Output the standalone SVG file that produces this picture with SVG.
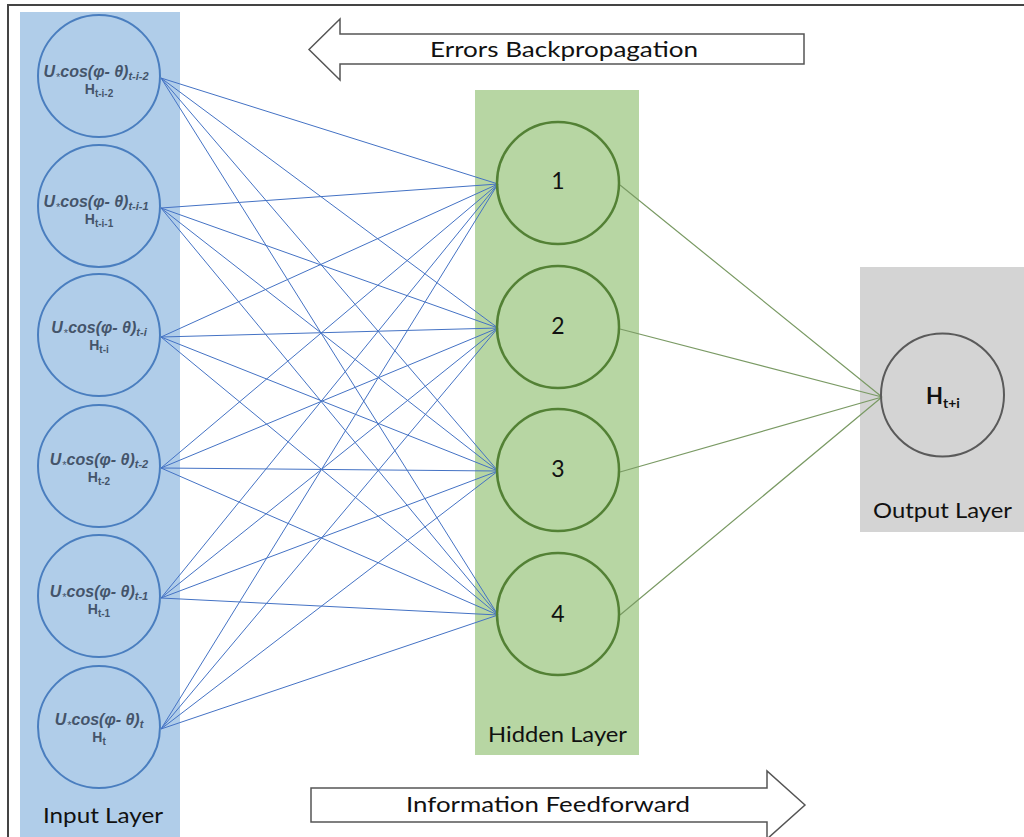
<svg xmlns="http://www.w3.org/2000/svg" width="1024" height="837" viewBox="0 0 1024 837">
<style>
.lbl{font-family:Lato,"Liberation Sans",sans-serif;font-size:21px;fill:#111;text-anchor:middle}
.num{font-family:Lato,"Liberation Sans",sans-serif;font-size:23px;fill:#111;text-anchor:middle}
.m1{font-family:"Liberation Sans",sans-serif;font-size:16px;font-weight:bold;font-style:italic;fill:#44546a;text-anchor:middle}
.m2{font-family:"Liberation Sans",sans-serif;font-size:14px;font-weight:bold;fill:#44546a;text-anchor:middle}
.sb{font-size:11px}
.ast{font-size:11px;font-style:normal;font-weight:normal}
.st{font-size:10px}
.inc{fill:none;stroke:#4a7ebf;stroke-width:2}
.hc{fill:none;stroke:#538135;stroke-width:2.5}
.oc{fill:none;stroke:#5a5a5a;stroke-width:2}
.bl{stroke:#4472c4;stroke-width:1;fill:none}
.gl{stroke:#7a9a64;stroke-width:1.2;fill:none}
.arr{fill:#fff;stroke:#555;stroke-width:1.5}
</style>
<rect x="0" y="0" width="1024" height="837" fill="#fff"/>
<rect x="8" y="5" width="1030" height="850" fill="#fff" stroke="#444" stroke-width="2"/>
<rect x="20" y="12" width="160" height="830" fill="#b0cde9"/>
<rect x="475" y="90" width="164" height="665" fill="#b7d6a3"/>
<rect x="860" y="267" width="170" height="265" fill="#d4d4d4"/>

<g id="arrow-back">
<polygon class="arr" points="309,49.5 340,19 340,34 804,34 804,64 340,64 340,80"/>
<text class="lbl" x="564" y="57" textLength="268" lengthAdjust="spacingAndGlyphs">Errors Backpropagation</text>
</g>
<g id="arrow-forward">
<polygon class="arr" points="805,805 767,771 767,788 311,788 311,822 767,822 767,839"/>
<text class="lbl" x="548" y="812" textLength="284" lengthAdjust="spacingAndGlyphs">Information Feedforward</text>
</g>

<g id="connectors">
<path class="bl" d="M161,78L498,184M161,78L498,328M161,78L498,471M161,78L498,615
M161,208L498,184M161,208L498,328M161,208L498,471M161,208L498,615
M161,337L498,184M161,337L498,328M161,337L498,471M161,337L498,615
M161,468L498,184M161,468L498,328M161,468L498,471M161,468L498,615
M161,598L498,184M161,598L498,328M161,598L498,471M161,598L498,615
M161,729L498,184M161,729L498,328M161,729L498,471M161,729L498,615"/>
<path class="gl" d="M620,185L882,397M620,329L882,397M620,472L882,397M620,615L882,397"/>
</g>

<g id="input-1">
<circle class="inc" cx="99" cy="76" r="61"/>
<text class="m1" x="96" y="77">U<tspan class="ast" dx="1" dy="4">*</tspan><tspan dy="-4">cos(φ- θ)</tspan><tspan class="sb" dy="3">t-i-2</tspan></text>
<text class="m2" x="99" y="94">H<tspan class="st" dy="3">t-i-2</tspan></text>
</g>
<g id="input-2">
<circle class="inc" cx="99" cy="206" r="61"/>
<text class="m1" x="96" y="207">U<tspan class="ast" dx="1" dy="4">*</tspan><tspan dy="-4">cos(φ- θ)</tspan><tspan class="sb" dy="3">t-i-1</tspan></text>
<text class="m2" x="99" y="224">H<tspan class="st" dy="3">t-i-1</tspan></text>
</g>
<g id="input-3">
<circle class="inc" cx="99" cy="335" r="61"/>
<text class="m1" x="99" y="333">U<tspan class="ast" dx="1" dy="4">*</tspan><tspan dy="-4">cos(φ- θ)</tspan><tspan class="sb" dy="3">t-i</tspan></text>
<text class="m2" x="99" y="350">H<tspan class="st" dy="3">t-i</tspan></text>
</g>
<g id="input-4">
<circle class="inc" cx="99" cy="466" r="61"/>
<text class="m1" x="99" y="465">U<tspan class="ast" dx="1" dy="4">*</tspan><tspan dy="-4">cos(φ- θ)</tspan><tspan class="sb" dy="3">t-2</tspan></text>
<text class="m2" x="99" y="482">H<tspan class="st" dy="3">t-2</tspan></text>
</g>
<g id="input-5">
<circle class="inc" cx="99" cy="596" r="61"/>
<text class="m1" x="99" y="597">U<tspan class="ast" dx="1" dy="4">*</tspan><tspan dy="-4">cos(φ- θ)</tspan><tspan class="sb" dy="3">t-1</tspan></text>
<text class="m2" x="99" y="614">H<tspan class="st" dy="3">t-1</tspan></text>
</g>
<g id="input-6">
<circle class="inc" cx="99" cy="727" r="61"/>
<text class="m1" x="99" y="725">U<tspan class="ast" dx="1" dy="4">*</tspan><tspan dy="-4">cos(φ- θ)</tspan><tspan class="sb" dy="3">t</tspan></text>
<text class="m2" x="99" y="742">H<tspan class="st" dy="3">t</tspan></text>
</g>
<text id="input-label" class="lbl" x="103" y="823" textLength="120" lengthAdjust="spacingAndGlyphs">Input Layer</text>

<g id="hidden-1"><circle class="hc" cx="558" cy="183" r="61"/><text class="num" x="558" y="189">1</text></g>
<g id="hidden-2"><circle class="hc" cx="558" cy="327" r="61"/><text class="num" x="558" y="334">2</text></g>
<g id="hidden-3"><circle class="hc" cx="558" cy="470" r="61"/><text class="num" x="558" y="477">3</text></g>
<g id="hidden-4"><circle class="hc" cx="558" cy="614" r="61"/><text class="num" x="558" y="622">4</text></g>
<text id="hidden-label" class="lbl" x="557.5" y="742" textLength="139" lengthAdjust="spacingAndGlyphs">Hidden Layer</text>

<g id="output">
<circle class="oc" cx="942.5" cy="395" r="61.5"/>
<text x="943" y="404" font-family="Lato,'Liberation Sans',sans-serif" font-size="22" font-weight="bold" fill="#111" text-anchor="middle">H<tspan font-size="14" dy="4">t+i</tspan></text>
</g>
<text id="output-label" class="lbl" x="942.5" y="518" textLength="139" lengthAdjust="spacingAndGlyphs">Output Layer</text>
</svg>
